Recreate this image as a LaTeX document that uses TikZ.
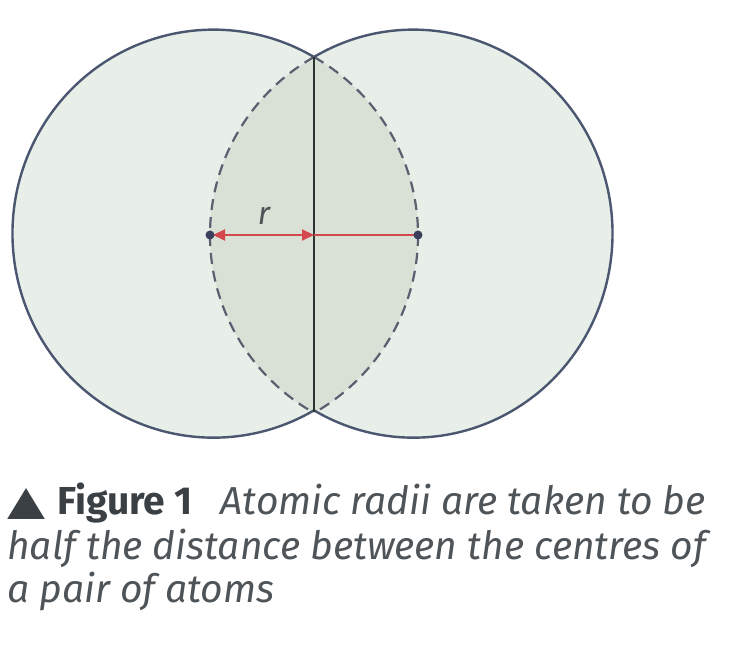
\documentclass[tikz,border=0pt]{standalone}
\usepackage{fontspec}
\usepackage{graphicx}
\setmainfont{Fira Sans}
\newfontfamily\symfont{DejaVu Sans}
\usetikzlibrary{arrows.meta}
\definecolor{outerfill}{HTML}{E8EEE8}
\definecolor{lensfill}{HTML}{D9E0D5}
\definecolor{rim}{HTML}{4B5670}
\definecolor{dashcol}{HTML}{5A6070}
\definecolor{axis}{HTML}{2A3530}
\definecolor{redline}{HTML}{D4474C}
\definecolor{dotcol}{HTML}{3A3F5C}
\definecolor{captdark}{HTML}{3A4044}
\definecolor{captgray}{HTML}{4E5458}
\tikzset{
  rimline/.style={draw=rim, line width=2.4pt},
  dashline/.style={draw=dashcol, line width=2.2pt, dash pattern=on 11pt off 7pt},
  axisline/.style={draw=axis, line width=2pt},
  radline/.style={draw=redline, line width=2pt},
  centredot/.style={circle, fill=dotcol, inner sep=0pt, minimum size=9pt},
  capt/.style={anchor=base west, inner sep=0pt, font=\fontsize{39}{45}\selectfont, text=captgray},
}
\begin{document}
\begin{tikzpicture}[x=1pt,y=1pt]
\useasboundingbox (0,0) rectangle (734,668);
\coordinate (T) at (314,611);
\coordinate (B) at (314,256);
\coordinate (cL) at (210,433);
\coordinate (mid) at (314,433);
\coordinate (cR) at (418,433);
% fills
\fill[outerfill] (T) arc[start angle=60, end angle=300, x radius=201, y radius=204] -- cycle;
\fill[outerfill] (T) arc[start angle=120, end angle=-120, x radius=199, y radius=204] -- cycle;
\fill[lensfill] (T) arc[start angle=120, end angle=240, x radius=208, y radius=205.5]
   arc[start angle=-60, end angle=60, x radius=208, y radius=205.5] -- cycle;
% dashed inner arcs
\draw[dashline] (T) arc[start angle=120, end angle=240, x radius=208, y radius=205.5];
\draw[dashline] (T) arc[start angle=60, end angle=-60, x radius=208, y radius=205.5];
% outer arcs
\draw[rimline] (T) arc[start angle=60, end angle=300, x radius=201, y radius=204];
\draw[rimline] (T) arc[start angle=120, end angle=-120, x radius=199, y radius=204];
% axis
\draw[axisline] (T) -- (B);
% radius
\draw[radline] (mid) -- (cR);
\draw[radline, {Triangle[length=12pt,width=11pt]}-{Triangle[length=12pt,width=11pt]}, shorten <=3pt] (cL) -- (mid);
\node[centredot] (dL) at (cL) {};
\node[centredot] (dR) at (cR) {};
\node[font=\fontsize{32}{36}\selectfont\itshape, text=captgray] (rlab) at (264,452) {r};
% caption
\node[capt] (c1) at (7,153) {{\color{captdark}\resizebox{38pt}{26pt}{\symfont ▲}}\hspace{12pt}\textbf{\color{captdark}Figure 1}\hspace{28pt}\itshape Atomic radii are taken to be};
\node[capt] (c2) at (7,108) {\itshape half the distance between the centres of};
\node[capt] (c3) at (7,65) {\itshape a pair of atoms};
\end{tikzpicture}
\end{document}
